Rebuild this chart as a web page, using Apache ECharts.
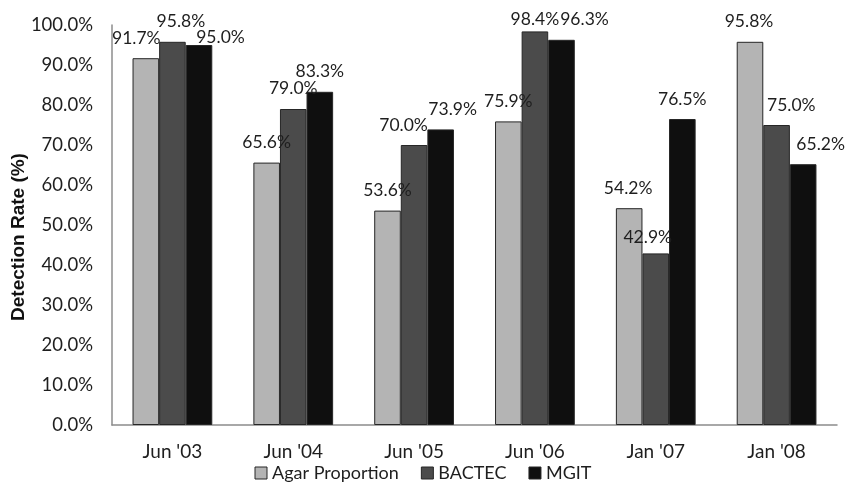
<!DOCTYPE html>
<html>
<head>
<meta charset="utf-8">
<script src="https://cdn.jsdelivr.net/npm/echarts@6/dist/echarts.min.js"></script>
<style>
  html, body { margin: 0; padding: 0; background: #fff; }
  #chart { width: 846px; height: 483px; }
</style>
</head>
<body>
<div id="chart"></div>
<script>
// Survey dates and detection rates (%) for each culture method
const categories = ["Jun '03", "Jun '04", "Jun '05", "Jun '06", "Jan '07", "Jan '08"];
const agarProportion = [91.7, 65.6, 53.6, 75.9, 54.2, 95.8];
const bactec = [95.8, 79.0, 70.0, 98.4, 42.9, 75.0];
const mgit = [95.0, 83.3, 73.9, 96.3, 76.5, 65.2];

// Nudges for the value labels so they sit where the author placed them
const agarLabelShift = [[-9.5, 0], [0, 0], [0, 0], [0, 0], [-1, 0], [-1, 0]];
const bactecLabelShift = [[8.5, 0], [0, -0.5], [-10.5, 0], [0, 7.6], [-8, 3.6], [14.7, 0]];
const mgitLabelShift = [[21.5, 12], [0, -0.5], [12, 0], [23, 0], [0, 0], [17.5, 0]];

const FONT = 'Lato';
const TEXT = '#1e1e1e';

function buildSeries(name, values, shifts, color) {
  return {
    name: name,
    type: 'bar',
    barGap: '0%',
    barCategoryGap: '34%',
    itemStyle: { color: color, borderColor: '#262626', borderWidth: 1 },
    data: values.map((v, i) => ({
      value: v,
      label: { offset: shifts[i] }
    })),
    label: {
      show: true,
      position: 'top',
      distance: 11,
      fontFamily: FONT,
      fontSize: 17.5,
      color: TEXT,
      formatter: p => p.value.toFixed(1) + '%'
    }
  };
}

const chart = echarts.init(document.getElementById('chart'), null, { renderer: 'canvas' });
chart.setOption({
  animation: false,
  backgroundColor: '#ffffff',
  grid: { left: 112, top: 25, width: 725, height: 400, containLabel: false, outerBoundsMode: 'none' },
  legend: {
    top: 464,
    left: 'center',
    icon: 'rect',
    itemWidth: 12,
    itemHeight: 12,
    itemGap: 22,
    padding: 0,
    itemStyle: { borderColor: '#262626', borderWidth: 1 },
    textStyle: { fontFamily: FONT, fontSize: 18, color: TEXT },
    data: ['Agar Proportion', 'BACTEC', 'MGIT']
  },
  xAxis: {
    type: 'category',
    data: categories,
    axisLine: { lineStyle: { color: '#8c8c8c', width: 1.5 } },
    axisTick: { show: false },
    axisLabel: { fontFamily: FONT, fontSize: 19, color: TEXT, margin: 17 }
  },
  yAxis: {
    type: 'value',
    min: 0,
    max: 100,
    interval: 10,
    name: 'Detection Rate (%)',
    nameLocation: 'middle',
    nameGap: 84,
    nameMoveOverlap: false,
    nameTextStyle: {
      fontFamily: 'Liberation Sans', fontWeight: 'bold', fontSize: 19, color: '#111',
      padding: [0, 24, 0, 0]
    },
    splitLine: { show: false },
    axisLine: { show: true, lineStyle: { color: '#8c8c8c', width: 1.5 } },
    axisTick: { show: false },
    axisLabel: {
      fontFamily: FONT, fontSize: 18.5, color: TEXT, margin: 19,
      formatter: v => v.toFixed(1) + '%'
    }
  },
  series: [
    buildSeries('Agar Proportion', agarProportion, agarLabelShift, '#b4b4b4'),
    buildSeries('BACTEC', bactec, bactecLabelShift, '#4b4b4b'),
    buildSeries('MGIT', mgit, mgitLabelShift, '#0f0f0f')
  ]
});
</script>
</body>
</html>
